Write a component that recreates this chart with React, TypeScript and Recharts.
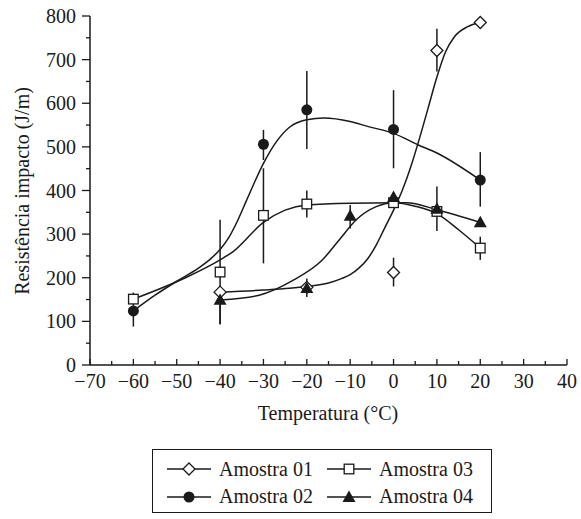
import { ComposedChart, ErrorBar, Line, Scatter, XAxis, YAxis } from "recharts";

// Pontos medidos (temperatura °C, resistência J/m, erro [baixo, alto])
const temps01 = [-40, -20, 0, 10, 20];
const values01 = [167, 178, 212, 721, 785];
const errors01 = [[6, 6], [8, 8], [32, 34], [48, 50], [5, 5]];

const temps02 = [-60, -30, -20, 0, 20];
const values02 = [124, 506, 585, 540, 424];
const errors02 = [[36, 20], [36, 33], [90, 89], [89, 90], [61, 64]];

const temps03 = [-60, -40, -30, -20, 0, 10, 20];
const values03 = [151, 213, 343, 369, 372, 352, 268];
const errors03 = [[9, 15], [120, 120], [110, 108], [31, 31], [12, 10], [45, 57], [27, 26]];

const temps04 = [-40, -20, -10, 0, 10, 20];
const values04 = [149, 176, 342, 385, 358, 327];
const errors04 = [[55, 20], [20, 22], [29, 25], [10, 10], [0, 0], [8, 8]];

// Curvas ajustadas
const curveX01 = [-40, -30, -24, -20, -15, -12, -10, -8, -6, -4, -2, 0, 2, 4, 6, 8, 10, 12, 14, 17, 20];
const curveY01 = [167, 172, 176, 180, 188, 198, 207, 222, 243, 275, 315, 355, 400, 455, 520, 590, 660, 718, 752, 775, 785];

const curveX02 = [-60, -55, -50, -45, -42, -40, -38, -36, -34, -32, -30, -27, -24, -20, -16, -10, -6, 0, 5.6, 10, 20];
const curveY02 = [124, 160, 192, 222, 245, 265, 292, 330, 375, 420, 462, 512, 545, 562, 566, 558, 547, 531, 505, 486, 424];

const curveX03 = [-60, -48, -40, -37, -30, -25, -20, -10, 0, 5, 10, 15, 20];
const curveY03 = [151, 200, 241, 260, 327, 355, 367, 371, 372, 364, 347, 310, 268];

const curveX04 = [-40, -31, -23, -16.5, -12.5, -8.6, -4, 0, 3, 10, 20];
const curveY04 = [149, 160, 195, 240, 287, 333, 363, 372, 372, 356, 327];

const xTicks = [-70, -65, -60, -55, -50, -45, -40, -35, -30, -25, -20, -15, -10, -5, 0, 5, 10, 15, 20, 25, 30, 35, 40];
const yTicks = [0, 50, 100, 150, 200, 250, 300, 350, 400, 450, 500, 550, 600, 650, 700, 750, 800];

const seriesNames = ["Amostra 01", "Amostra 02", "Amostra 03", "Amostra 04"];

const FONT = "Liberation Serif, DejaVu Serif, serif";
const INK = "#1a1a1a";

function toPoints(xs: number[], ys: number[], errs?: number[][]) {
  return xs.map((x, i) => ({ x, y: ys[i], err: errs ? errs[i] : [0, 0] }));
}

const points01 = toPoints(temps01, values01, errors01);
const points02 = toPoints(temps02, values02, errors02);
const points03 = toPoints(temps03, values03, errors03);
const points04 = toPoints(temps04, values04, errors04);

const curve01 = toPoints(curveX01, curveY01);
const curve02 = toPoints(curveX02, curveY02);
const curve03 = toPoints(curveX03, curveY03);
const curve04 = toPoints(curveX04, curveY04);

const textStyle = { fontFamily: FONT, fontSize: 20, fill: INK };

function Diamond({ cx, cy }: any) {
  const r = 6;
  return <path d={`M${cx},${cy - r}L${cx + r},${cy}L${cx},${cy + r}L${cx - r},${cy}Z`} fill="#fff" stroke={INK} strokeWidth={1.3} />;
}

function Circle({ cx, cy }: any) {
  return <circle cx={cx} cy={cy} r={5.5} fill={INK} />;
}

function Square({ cx, cy }: any) {
  const r = 4.8;
  return <rect x={cx - r} y={cy - r} width={2 * r} height={2 * r} fill="#fff" stroke={INK} strokeWidth={1.3} />;
}

function Triangle({ cx, cy }: any) {
  const r = 6.5;
  return <path d={`M${cx},${cy - r}L${cx + r},${cy + r * 0.75}L${cx - r},${cy + r * 0.75}Z`} fill={INK} />;
}

function fmt(v: number) {
  return v < 0 ? `\u2212${Math.abs(v)}` : `${v}`;
}

function XTick({ x, y, payload }: any) {
  const major = payload.value % 10 === 0;
  return (
    <g>
      <line x1={x} x2={x} y1={y} y2={y - (major ? 6 : 4)} stroke={INK} strokeWidth={1.3} />
      {major && (
        <text x={x} y={y + 23} textAnchor="middle" fontFamily={FONT} style={textStyle}>
          {fmt(payload.value)}
        </text>
      )}
    </g>
  );
}

function YTick({ x, y, payload }: any) {
  const major = payload.value % 100 === 0;
  return (
    <g>
      <line x1={x - (major ? 8 : 4)} x2={x} y1={y} y2={y} stroke={INK} strokeWidth={1.3} />
      {major && (
        <text x={x - 14} y={y + 7} textAnchor="end" fontFamily={FONT} style={textStyle}>
          {payload.value}
        </text>
      )}
    </g>
  );
}

function YTitle() {
  return (
    <text x={29} y={191} transform="rotate(-90 29 191)" textAnchor="middle" fontFamily={FONT} style={textStyle}>
      Resistência impacto (J/m)
    </text>
  );
}

function XTitle() {
  return (
    <text x={328} y={420} textAnchor="middle" fontFamily={FONT} style={textStyle}>
      Temperatura (°C)
    </text>
  );
}

const markers = [Diamond, Circle, Square, Triangle];

function LegendItem({ index }: { index: number }) {
  const Marker = markers[index];
  return (
    <div style={{ display: "flex", alignItems: "center", height: 24, whiteSpace: "nowrap" }}>
      <svg width={44} height={16} style={{ marginRight: 8, flexShrink: 0 }}>
        <line x1={0} x2={44} y1={8} y2={8} stroke={INK} strokeWidth={1.3} />
        <Marker cx={22} cy={8} />
      </svg>
      <span style={{ fontFamily: FONT, fontSize: 20, color: INK }}>{seriesNames[index]}</span>
    </div>
  );
}

export default function App() {
  const lineProps = { type: "monotone" as const, dataKey: "y", stroke: INK, strokeWidth: 1.5, dot: false, isAnimationActive: false };
  const barProps = { dataKey: "err", direction: "y" as const, width: 0, stroke: INK, strokeWidth: 1.5 };
  return (
    <div style={{ position: "absolute", left: 0, top: 0, width: 581, height: 519, background: "#fff", fontFamily: FONT }}>
      <ComposedChart width={581} height={440} margin={{ top: 16, right: 14, bottom: 10, left: 0 }}>
        <XAxis
          type="number"
          dataKey="x"
          domain={[-70, 40]}
          ticks={xTicks}
          interval={0}
          tickSize={0}
          tickMargin={0}
          tick={<XTick />}
          height={65}
          axisLine={{ stroke: INK, strokeWidth: 1.5 }}
          label={<XTitle />}
          allowDataOverflow
        />
        <YAxis
          type="number"
          dataKey="y"
          domain={[0, 800]}
          ticks={yTicks}
          interval={0}
          tickSize={0}
          tickMargin={0}
          tick={<YTick />}
          width={90}
          axisLine={{ stroke: INK, strokeWidth: 1.5 }}
          label={<YTitle />}
        />
        <Line data={curve01} {...lineProps} />
        <Line data={curve02} {...lineProps} />
        <Line data={curve03} {...lineProps} />
        <Line data={curve04} {...lineProps} />
        <Scatter data={points01} dataKey="y" shape={<Diamond />} isAnimationActive={false}>
          <ErrorBar {...barProps} />
        </Scatter>
        <Scatter data={points02} dataKey="y" shape={<Circle />} isAnimationActive={false}>
          <ErrorBar {...barProps} />
        </Scatter>
        <Scatter data={points03} dataKey="y" shape={<Square />} isAnimationActive={false}>
          <ErrorBar {...barProps} />
        </Scatter>
        <Scatter data={points04} dataKey="y" shape={<Triangle />} isAnimationActive={false}>
          <ErrorBar {...barProps} />
        </Scatter>
      </ComposedChart>
      <div
        style={{
          position: "absolute",
          left: 152,
          top: 449,
          width: 340,
          height: 64,
          boxSizing: "border-box",
          border: `1.3px solid ${INK}`,
          display: "grid",
          gridTemplateColumns: "160px 160px",
          padding: "7px 0 0 14px",
        }}
      >
        <LegendItem index={0} />
        <LegendItem index={2} />
        <LegendItem index={1} />
        <LegendItem index={3} />
      </div>
    </div>
  );
}
